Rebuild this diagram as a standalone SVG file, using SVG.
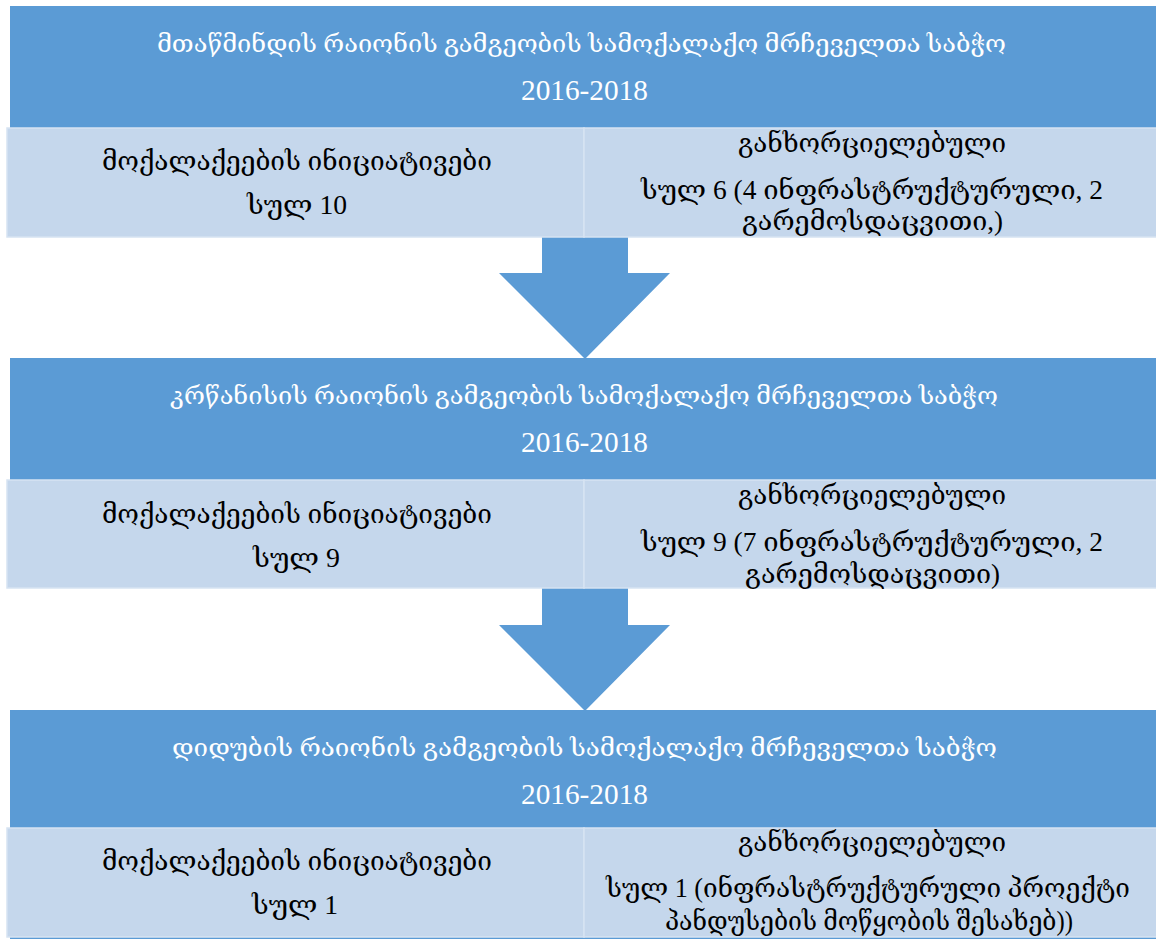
<svg xmlns="http://www.w3.org/2000/svg" width="1156" height="939" viewBox="0 0 1156 939">
<style>
.hdr{fill:#5B9BD5}
.cell{fill:#C5D7EC;stroke:#D6E3F2;stroke-width:1.5}
.arrow{fill:#5B9BD5}
text{font-family:"Liberation Serif","DejaVu Serif",serif;text-anchor:middle}
.ht{fill:#FFFFFF;font-size:25px}
.hy{fill:#FFFFFF;font-size:29px}
.bt{fill:#000000;font-size:27px}
</style>
<rect x="0" y="0" width="1156" height="939" fill="#FFFFFF"/>
<g id="connectors">
<polygon class="arrow" points="542,237 628,237 628,273 670,273 585,359 499,273 542,273"/>
<polygon class="arrow" points="542,588 628,588 628,625 670,625 585,711 499,625 542,625"/>
</g>
<g id="section1">
<rect class="hdr" x="10" y="6" width="1146" height="122"/>
<text class="ht" x="581.5" y="52" textLength="849" lengthAdjust="spacingAndGlyphs">მთაწმინდის რაიონის გამგეობის სამოქალაქო მრჩეველთა საბჭო</text>
<text class="hy" x="584.5" y="100" textLength="127" lengthAdjust="spacingAndGlyphs">2016-2018</text>
</g>
<g id="section1-left">
<rect class="cell" x="7" y="128" width="577" height="109"/>
<text class="bt" x="297" y="170" textLength="390" lengthAdjust="spacingAndGlyphs">მოქალაქეების ინიციატივები</text>
<text class="bt" x="297" y="214" textLength="100" lengthAdjust="spacingAndGlyphs">სულ 10</text>
</g>
<g id="section1-right">
<rect class="cell" x="584" y="128" width="574" height="109"/>
<text class="bt" x="872" y="152" textLength="268" lengthAdjust="spacingAndGlyphs">განხორციელებული</text>
<text class="bt" x="872" y="199" textLength="462" lengthAdjust="spacingAndGlyphs">სულ 6 (4 ინფრასტრუქტურული, 2</text>
<text class="bt" x="872.5" y="230" textLength="261" lengthAdjust="spacingAndGlyphs">გარემოსდაცვითი,)</text>
</g>
<g id="section2">
<rect class="hdr" x="10" y="358" width="1146" height="122"/>
<text class="ht" x="584" y="404" textLength="828" lengthAdjust="spacingAndGlyphs">კრწანისის რაიონის გამგეობის სამოქალაქო მრჩეველთა საბჭო</text>
<text class="hy" x="584.5" y="452" textLength="127" lengthAdjust="spacingAndGlyphs">2016-2018</text>
</g>
<g id="section2-left">
<rect class="cell" x="7" y="480" width="577" height="108"/>
<text class="bt" x="297" y="523" textLength="390" lengthAdjust="spacingAndGlyphs">მოქალაქეების ინიციატივები</text>
<text class="bt" x="296.5" y="567" textLength="87" lengthAdjust="spacingAndGlyphs">სულ 9</text>
</g>
<g id="section2-right">
<rect class="cell" x="584" y="480" width="574" height="108"/>
<text class="bt" x="872" y="504" textLength="268" lengthAdjust="spacingAndGlyphs">განხორციელებული</text>
<text class="bt" x="872" y="551" textLength="462" lengthAdjust="spacingAndGlyphs">სულ 9 (7 ინფრასტრუქტურული, 2</text>
<text class="bt" x="872.5" y="583" textLength="255" lengthAdjust="spacingAndGlyphs">გარემოსდაცვითი)</text>
</g>
<g id="section3">
<rect class="hdr" x="10" y="710" width="1146" height="118"/>
<text class="ht" x="584.5" y="756" textLength="825" lengthAdjust="spacingAndGlyphs">დიდუბის რაიონის გამგეობის სამოქალაქო მრჩეველთა საბჭო</text>
<text class="hy" x="584.5" y="804" textLength="127" lengthAdjust="spacingAndGlyphs">2016-2018</text>
<rect class="hdr" x="10" y="937" width="1146" height="2"/>
</g>
<g id="section3-left">
<rect class="cell" x="7" y="828" width="577" height="109"/>
<text class="bt" x="297" y="870" textLength="390" lengthAdjust="spacingAndGlyphs">მოქალაქეების ინიციატივები</text>
<text class="bt" x="295" y="914" textLength="86" lengthAdjust="spacingAndGlyphs">სულ 1</text>
</g>
<g id="section3-right">
<rect class="cell" x="584" y="828" width="574" height="109"/>
<text class="bt" x="872" y="851" textLength="268" lengthAdjust="spacingAndGlyphs">განხორციელებული</text>
<text class="bt" x="868" y="897" textLength="524" lengthAdjust="spacingAndGlyphs">სულ 1 (ინფრასტრუქტურული პროექტი</text>
<text class="bt" x="869" y="930" textLength="408" lengthAdjust="spacingAndGlyphs">პანდუსების მოწყობის შესახებ))</text>
</g>
</svg>
